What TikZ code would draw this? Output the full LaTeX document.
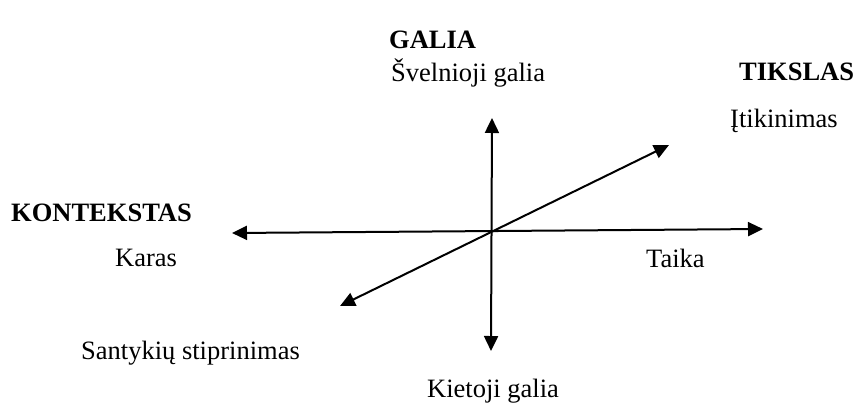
\documentclass[tikz,border=0pt]{standalone}
\usepackage{fontspec}
\setmainfont{Liberation Serif}
\usetikzlibrary{arrows.meta}
\begin{document}
\begin{tikzpicture}[x=1pt,y=-1pt,
  axis/.style={line width=2pt,{Triangle[length=15pt,width=14pt]}-{Triangle[length=15pt,width=14pt]}},
  lbl/.style={anchor=base west,inner sep=0pt,font=\fontsize{26.5}{30}\selectfont},
  head/.style={lbl,font=\fontsize{26.5}{30}\selectfont\bfseries}]
\useasboundingbox (0,0) rectangle (854,408);
\coordinate (hl) at (232,233);
\coordinate (hr) at (763,229);
\coordinate (vt) at (492,118);
\coordinate (vb) at (491,351);
\coordinate (dl) at (340,306);
\coordinate (dr) at (669,145);
\draw[axis] (hl) -- (hr);
\draw[axis] (vb) -- (vt);
\draw[axis] (dl) -- (dr);
\node[head] (galia) at (389,48) {GALIA};
\node[lbl] (svel) at (391,81) {Švelnioji galia};
\node[head] (tiks) at (739,80) {TIKSLAS};
\node[lbl] (itik) at (730,127) {Įtikinimas};
\node[head] (kont) at (11,221) {KONTEKSTAS};
\node[lbl] (karas) at (115,266) {Karas};
\node[lbl] (taika) at (646,267) {Taika};
\node[lbl] (sant) at (81,359) {Santykių stiprinimas};
\node[lbl] (kiet) at (427,397) {Kietoji galia};
\end{tikzpicture}
\end{document}
